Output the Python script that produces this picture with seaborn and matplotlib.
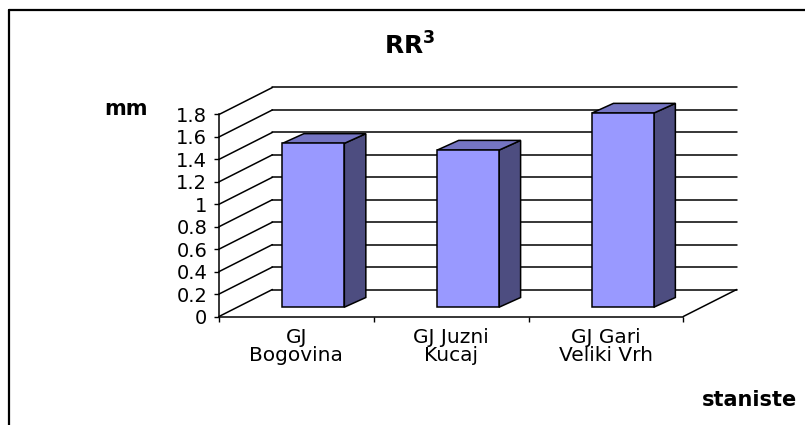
import matplotlib
matplotlib.use("Agg")
import matplotlib.pyplot as plt
from matplotlib.patches import Polygon
from matplotlib.lines import Line2D
import seaborn as sns
import pandas as pd

# ---- data ----
categories = ["GJ\nBogovina", "GJ Juzni\nKucaj", "GJ Gari\nVeliki Vrh"]
values = [1.46, 1.40, 1.73]
yticks = [0.0, 0.2, 0.4, 0.6, 0.8, 1.0, 1.2, 1.4, 1.6, 1.8]
ytick_labels = ["0", "0.2", "0.4", "0.6", "0.8", "1", "1.2", "1.4", "1.6", "1.8"]
title = r"RR$^{\mathbf{3}}$"
ylabel = "mm"
xlabel = "staniste"

sns.set_theme(style="white")
plt.rcParams['font.family'] = ['DejaVu Sans']
plt.rcParams['mathtext.fontset'] = 'dejavusans'
plt.rcParams['text.color'] = 'black'
plt.rcParams['xtick.color'] = 'black'
plt.rcParams['ytick.color'] = 'black'
plt.rcParams['xtick.labelcolor'] = 'black'
plt.rcParams['ytick.labelcolor'] = 'black'

W, H = 805, 425
fig = plt.figure(figsize=(W / 100, H / 100), dpi=100)

# front plane of the 3D box (pixel geometry)
x0, x1 = 219, 683.3
y0, y1 = 316.5, 114.5
ax = fig.add_axes([x0 / W, (H - y0) / H, (x1 - x0) / W, (y0 - y1) / H])

df = pd.DataFrame({"cat": categories, "val": values})
sns.barplot(data=df, x="cat", y="val", width=0.4, color="#9999FF",
            saturation=1, edgecolor="black", linewidth=1.1, ax=ax, zorder=5)

ax.set_xlim(-0.5, 2.5)
ax.set_ylim(0, 1.8)

pxx = (x1 - x0) / 3.0          # pixels per category unit
pxy = (y0 - y1) / 1.8          # pixels per value unit
DX, DY = 53.4 / pxx, 27.0 / pxy          # full depth of the box
FX, FY = 17.0 / pxx, 9.3 / pxy           # bar front plane position
BX, BY = 21.5 / pxx, 9.7 / pxy           # bar depth

lw = 1.1
# back wall gridlines + left wall diagonals
for v in yticks:
    ax.plot([-0.5 + DX, 2.5 + DX], [v + DY, v + DY], color="black", lw=lw,
            clip_on=False, zorder=1)
    ax.plot([-0.5, -0.5 + DX], [v, v + DY], color="black", lw=lw,
            clip_on=False, zorder=1)
# floor right edge
ax.plot([2.5, 2.5 + DX], [0, DY], color="black", lw=lw, clip_on=False, zorder=1)

# shift bars into their plane and add side/top faces
for p in ax.patches:
    p.set_x(p.get_x() + FX)
    p.set_y(FY)
    p.set_clip_on(False)
    xl = p.get_x()
    xr = xl + p.get_width()
    b = p.get_y()
    t = b + p.get_height()
    side = Polygon([(xr, b), (xr + BX, b + BY), (xr + BX, t + BY), (xr, t)],
                   closed=True, facecolor="#4D4D80", edgecolor="black",
                   linewidth=lw, clip_on=False, zorder=4)
    top = Polygon([(xl, t), (xl + BX, t + BY), (xr + BX, t + BY), (xr, t)],
                  closed=True, facecolor="#7474C2", edgecolor="black",
                  linewidth=lw, clip_on=False, zorder=4)
    ax.add_patch(side)
    ax.add_patch(top)

# spines
for s in ["top", "right"]:
    ax.spines[s].set_visible(False)
for s in ["left", "bottom"]:
    ax.spines[s].set_color("black")
    ax.spines[s].set_linewidth(lw)
    ax.spines[s].set_zorder(6)
ax.set_facecolor("none")

ax.set_yticks(yticks)
ax.set_yticklabels(ytick_labels, fontsize=14)
ax.tick_params(axis="y", direction="out", length=3.5, width=1, color="black",
               pad=5, left=True)
ax.set_xticks([0, 1, 2])
ax.set_xticklabels(categories, fontsize=14.5, linespacing=0.88)
ax.set_xticks([-0.5, 0.5, 1.5, 2.5], minor=True)
ax.tick_params(axis="x", which="major", length=0, pad=8.5)
ax.tick_params(axis="x", which="minor", direction="out", length=3.5, width=1,
               color="black", bottom=True)
ax.set_xlabel("")
ax.set_ylabel("")
ax.grid(False)

# texts
fig.text(410 / W, 1 - 55 / H, title, ha="center", va="baseline",
         fontsize=18, fontweight="bold")
fig.text(126 / W, 1 - 115 / H, ylabel, ha="center", va="baseline",
         fontsize=15, fontweight="bold")
fig.text(797 / W, 1 - 406 / H, xlabel, ha="right", va="baseline",
         fontsize=15, fontweight="bold")

# chart border (top and left visible)
fig.add_artist(Line2D([9 / W, 1.0], [1 - 10 / H, 1 - 10 / H], color="black",
                      lw=1.6, transform=fig.transFigure))
fig.add_artist(Line2D([9 / W, 9 / W], [1 - 10 / H, 0.0], color="black",
                      lw=1.6, transform=fig.transFigure))

fig.savefig("out.png", dpi=100, facecolor="white")
